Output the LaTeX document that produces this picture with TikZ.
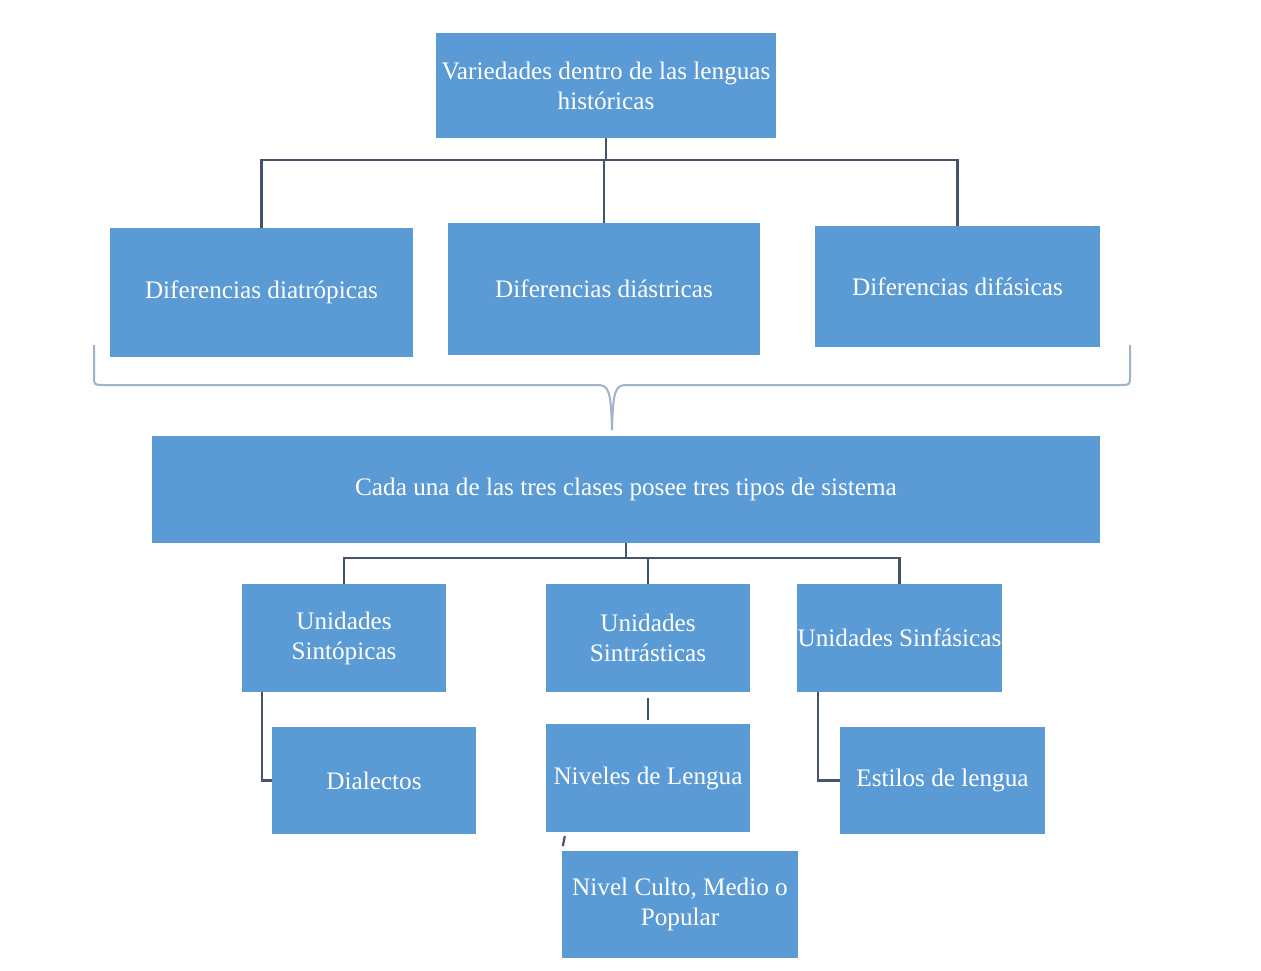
\documentclass[tikz,border=0pt]{standalone}
\usepackage{fontspec}
\setmainfont{Liberation Serif}
\usetikzlibrary{calc}
\definecolor{boxblue}{HTML}{5B9BD5}
\definecolor{linegray}{HTML}{44546A}
\definecolor{bracecol}{HTML}{9FB4CC}
\tikzset{
  box/.style={fill=boxblue, draw=none, text=white, align=center,
    font=\fontsize{25.2}{30}\selectfont, inner sep=0pt},
  conn/.style={draw=linegray, line width=2.2pt},
}
\begin{document}
\begin{tikzpicture}[x=1pt,y=-1pt]
\useasboundingbox (0,0) rectangle (1261,971);
\fill[white] (0,0) rectangle (1261,971);

\node[box, minimum width=340, minimum height=105] (top) at (606,85.5) {Variedades dentro de las lenguas\\históricas};

\node[box, minimum width=303, minimum height=129] (A) at (261.5,292.5) {Diferencias diatrópicas};
\node[box, minimum width=312, minimum height=132] (B) at (604,289) {Diferencias diástricas};
\node[box, minimum width=285, minimum height=121] (C) at (957.5,286.5) {Diferencias difásicas};

\node[box, minimum width=948, minimum height=107] (big) at (626,489.5) {Cada una de las tres clases posee tres tipos de sistema};

\node[box, minimum width=204, minimum height=108] (D) at (344,638) {Unidades\\Sintópicas};
\node[box, minimum width=204, minimum height=108] (E) at (648,638) {Unidades\\Sintrásticas};
\node[box, minimum width=205, minimum height=108] (F) at (899.5,638) {Unidades Sinfásicas};

\node[box, minimum width=204, minimum height=107] (G) at (374,780.5) {Dialectos};
\node[box, minimum width=204, minimum height=108] (H) at (648,778) {Niveles de Lengua};
\node[box, minimum width=205, minimum height=107] (I) at (942.5,780.5) {Estilos de lengua};

\node[box, minimum width=236, minimum height=107] (J) at (680,904.5) {Nivel Culto, Medio o\\Popular};

% connectors top
\coordinate (h1) at (606,160);
\draw[conn] (top.south) -- (h1);
\draw[conn] (A.north) |- (h1) -| (C.north);
\draw[conn] (B.north) -- (B.north |- h1);

% brace
\coordinate (bl) at (94,345);
\coordinate (br) at (1130,345);
\coordinate (bm) at (612,430);
\draw[bracecol, line width=2pt]
  (bl) -- (94,376) .. controls (94,385) .. (104,385) -- (598,385)
  .. controls (609,385) and (611,392) .. (bm);
\draw[bracecol, line width=2pt]
  (br) -- (1130,376) .. controls (1130,385) .. (1120,385) -- (626,385)
  .. controls (615,385) and (613,392) .. (bm);

% connectors bottom
\coordinate (h2) at (626,558);
\draw[conn] (big.south) -- (h2);
\draw[conn] (D.north) |- (h2) -| (F.north);
\draw[conn] (E.north) -- (E.north |- h2);

\draw[conn] ([xshift=20pt]D.south west) |- (G.west);
\draw[conn] ([xshift=21pt]F.south west) |- (I.west);
\draw[conn] ([yshift=-6pt]E.south) -- ([yshift=4pt]H.north);
\draw[conn] ($(H.south west)+(19,4)$) -- ($(H.south west)+(17,14)$);
\end{tikzpicture}
\end{document}
